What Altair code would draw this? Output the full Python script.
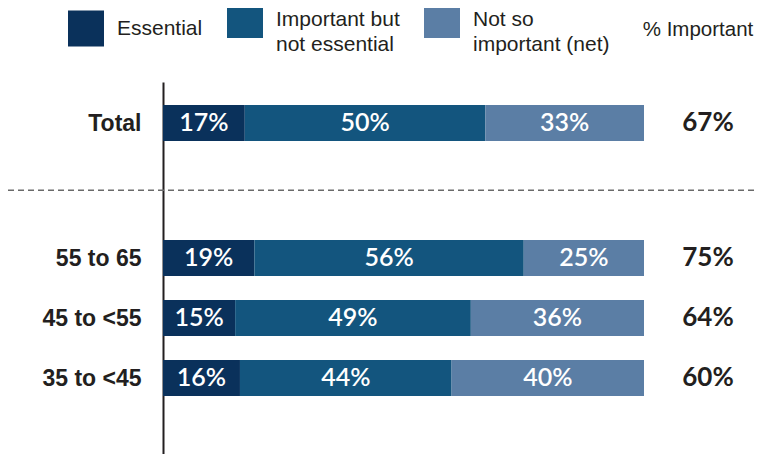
import altair as alt
import pandas as pd

# ---- data ----
rows = ["Total", "55 to 65", "45 to <55", "35 to <45"]
row_pos = [0, 2.25, 3.25, 4.25]
categories = ["Essential", "Important but not essential", "Not so important (net)"]
essential = [17, 19, 15, 16]
important = [50, 56, 49, 44]
not_so = [33, 25, 36, 40]
pct_important = [67, 75, 64, 60]
header = "% Important"
divider_pos = 1.12
colors = ["#0a315b", "#13557e", "#5b7ea5"]

# ---- tables ----
recs = []
for i, r in enumerate(rows):
    start = 0
    for cat, vals in zip(categories, [essential, important, not_so]):
        v = vals[i]
        recs.append({"row": r, "pos": row_pos[i], "cat": cat, "start": start,
                     "end": start + v, "mid": start + v / 2, "label": f"{v}%"})
        start += v
bars_df = pd.DataFrame(recs)
right_df = pd.DataFrame({"row": rows, "pos": row_pos,
                         "pct": [f"{v}%" for v in pct_important]})
header_df = pd.DataFrame({"t": [header]})
div_df = pd.DataFrame({"pos": [divider_pos]})

TXT = "#231f20"
SANS = "Liberation Sans, Arial, sans-serif"
label_expr = " : ".join(f"datum.value == {p} ? '{r}'" for p, r in zip(row_pos, rows)) + " : ''"

yscale = alt.Scale(domain=[-41 / 60, 331 / 60], reverse=True, padding=0, nice=False, zero=False)
yaxis = alt.Axis(values=row_pos, labelExpr=label_expr, title=None, domain=True,
                 domainColor=TXT, domainWidth=2, ticks=False, grid=False,
                 labelPadding=22, labelFont=SANS, labelFontWeight="bold",
                 labelFontSize=23, labelColor=TXT)
xscale = alt.Scale(domain=[0, 100], padding=0, nice=False)

legend_expr = ("datum.label == 'Important but not essential' ? ['Important but', 'not essential'] : "
               "datum.label == 'Not so important (net)' ? ['Not so', 'important (net)'] : datum.label")

base = alt.Chart(bars_df)
bars = base.mark_bar(size=36, orient="horizontal").encode(
    x=alt.X("start:Q", scale=xscale, axis=None),
    x2="end:Q",
    y=alt.Y("pos:Q", scale=yscale, axis=yaxis),
    color=alt.Color("cat:N", scale=alt.Scale(domain=categories, range=colors),
                    legend=alt.Legend(orient="none", legendX=-95, legendY=-80,
                                      direction="horizontal", title=None,
                                      symbolType="square",
                                      symbolSize=1296, symbolStrokeWidth=0,
                                      symbolOpacity=1, labelFont=SANS,
                                      labelFontSize=21, labelColor=TXT, labelOffset=13,
                                      columnPadding=24, labelLimit=300,
                                      labelExpr=legend_expr)),
)
bar_text = base.mark_text(color="white", font="Lato", fontWeight=600, fontSize=25,
                          baseline="middle", align="center").encode(
    x=alt.X("mid:Q", scale=xscale, axis=None),
    y=alt.Y("pos:Q", scale=yscale, axis=yaxis),
    text="label:N",
)
right_text = alt.Chart(right_df).mark_text(color=TXT, font="Lato", fontWeight="bold",
                                           fontSize=26, baseline="middle", align="center").encode(
    x=alt.value(545),
    y=alt.Y("pos:Q", scale=yscale, axis=yaxis),
    text="pct:N",
)
head = alt.Chart(header_df).mark_text(color=TXT, font=SANS,
                                      fontSize=20.5, baseline="middle", align="center").encode(
    x=alt.value(535), y=alt.value(-52), text="t:N")
divider = alt.Chart(div_df).mark_rule(color="#6a6a6a", strokeWidth=1.5, strokeDash=[6, 4]).encode(
    y=alt.Y("pos:Q", scale=yscale, axis=yaxis),
    x=alt.value(-155), x2=alt.value(592))

chart = alt.layer(divider, bars, bar_text, right_text, head).properties(
    width=481, height=372,
    autosize=alt.AutoSizeParams(type="none"),
    padding={"left": 155, "top": 74, "right": 111, "bottom": 0},
).configure(style={"guide-label": {"lineHeight": 25}}).configure_view(strokeWidth=0)

chart.save("out.html", embed_options={"renderer": "svg", "actions": False})
